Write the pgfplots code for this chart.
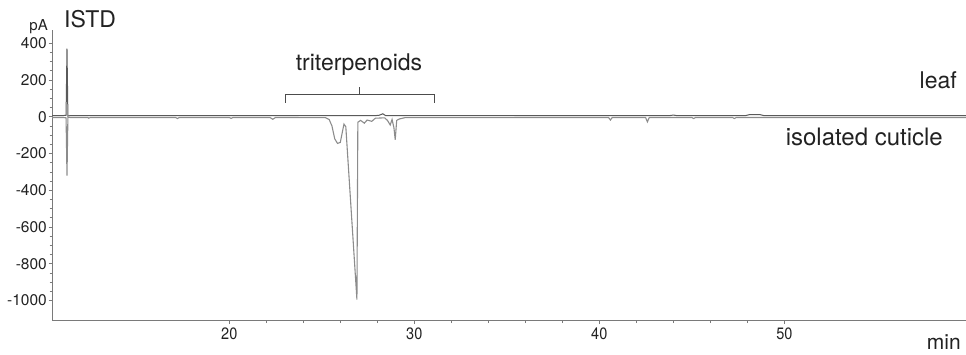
\documentclass[border=0pt]{standalone}
\usepackage{pgfplots}
\pgfplotsset{compat=1.18}
\usepackage{fontspec}
\setmainfont{TeX Gyre Heros}
\definecolor{leafc}{HTML}{5A5A5A}
\definecolor{cutc}{HTML}{8C8C8C}
\definecolor{axc}{HTML}{7A7A7A}
\definecolor{txt}{HTML}{222222}
\begin{document}
\begin{tikzpicture}[x=1bp,y=1bp]
\useasboundingbox (0,0) rectangle (966,354);
\begin{axis}[at={(52bp,33.3bp)}, anchor=south west,
  width=914bp, height=290.7bp, scale only axis,
  xmin=10.42, xmax=59.82, ymin=-1110, ymax=472,
  axis x line=bottom, axis y line=left,
  axis line style={-, draw=axc, line width=0.8bp},
  xtick={20,30,40,50}, minor x tick num=4,
  ytick={-1000,-800,-600,-400,-200,0,200,400}, minor y tick num=3,
  tick align=outside, major tick length=3.5bp, minor tick length=2.5bp,
  every tick/.style={draw=axc, line width=0.6bp},
  /pgf/number format/assume math mode=true,
  /pgf/number format/set thousands separator={},
  scaled y ticks=false,
  x tick label style={font=\fontsize{16.5bp}{16.5bp}\selectfont, text=txt, xscale=0.88},
  y tick label style={font=\fontsize{15.5bp}{15.5bp}\selectfont, text=txt, inner sep=1.5bp},
  clip=false]
\addplot[cutc, line width=1.1bp] coordinates {
(10.42,-4) (11.0,-4) (11.18,-6) (11.23,-320) (11.28,-2) (11.4,-4)
(12.35,-4) (12.4,-8) (12.5,-4) (17.1,-4) (17.2,-10) (17.3,-4)
(20.0,-4) (20.1,-9) (20.2,-4) (22.2,-4) (22.35,-14) (22.5,-4)
(25.2,-5) (25.4,-15) (25.55,-50) (25.7,-120) (25.85,-145) (26.0,-140)
(26.1,-90) (26.2,-40) (26.3,-55) (26.9,-995) (26.95,-30) (27.1,-20)
(27.3,-35) (27.45,-18) (27.7,-25) (27.9,-8) (28.4,-6) (28.55,-20)
(28.7,-45) (28.8,-15) (28.9,-60) (28.97,-125) (29.05,-20) (29.2,-12)
(29.5,-5) (40.5,-4) (40.6,-18) (40.7,-4) (42.5,-4) (42.6,-28) (42.7,-4)
(45.0,-4) (45.1,-10) (45.2,-4) (47.2,-4) (47.3,-10) (47.4,-4) (59.82,-4)
};
\addplot[leafc, line width=1bp] coordinates {
(10.42,6) (11.0,6) (11.18,8) (11.23,370) (11.28,4) (11.4,6)
(27.9,6) (28.1,8) (28.3,16) (28.45,6) (43.8,6) (44.0,9) (44.2,6)
(47.9,6) (48.1,11) (48.7,11) (48.9,6) (59.82,6)
};
\draw[black!70, line width=0.8bp] (axis cs:23.01,75) -- (axis cs:23.01,119) -- (axis cs:31.07,119) -- (axis cs:31.07,75);
\draw[black!70, line width=0.8bp] (axis cs:27.01,119) -- (axis cs:27.01,162);
\end{axis}
\node[anchor=base east, inner sep=0, text=txt, font=\fontsize{15bp}{15bp}\selectfont] at (48,324) {pA};
\node[anchor=base west, inner sep=0, text=txt, font=\fontsize{23bp}{23bp}\selectfont] at (64,327) {ISTD};
\node[anchor=base, inner sep=0, text=txt, font=\fontsize{23bp}{23bp}\selectfont] at (359,284) {triterpenoids};
\node[anchor=base east, inner sep=0, text=txt, font=\fontsize{23bp}{23bp}\selectfont] at (957,266) {leaf};
\node[anchor=base east, inner sep=0, text=txt, font=\fontsize{24bp}{24bp}\selectfont] at (943,209) {isolated cuticle};
\node[anchor=base east, inner sep=0, text=txt, font=\fontsize{21bp}{21bp}\selectfont] at (961,5) {min};
\end{tikzpicture}
\end{document}
